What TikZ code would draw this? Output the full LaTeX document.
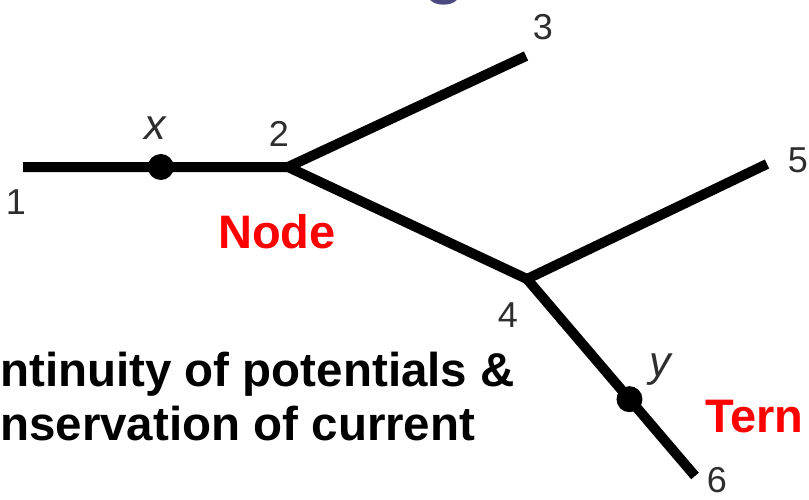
\documentclass[tikz,border=0pt]{standalone}
\usepackage{fontspec}
\setmainfont{Liberation Sans}
\usepackage{tikz}
\usetikzlibrary{calc}
\definecolor{TitleBlue}{HTML}{4A4980}
\definecolor{LabGray}{HTML}{2E2E2E}
\definecolor{NodeRed}{HTML}{FF0000}

\begin{document}
\begin{tikzpicture}[x=1pt,y=-1pt,
  cable/.style={line width=10pt,line join=round},
  dot/.style={circle,fill=black,inner sep=0pt,minimum size=26pt},
  num/.style={text=LabGray,font=\fontsize{36}{36}\selectfont,inner sep=0pt},
  var/.style={text=LabGray,font=\fontsize{43}{43}\selectfont\itshape,inner sep=0pt},
  redlab/.style={text=NodeRed,font=\fontsize{47}{47}\selectfont\bfseries,inner sep=0pt},
  every node/.style={anchor=center}]
  \useasboundingbox (0,0) rectangle (809,499);
  % title fragment
  \node[text=TitleBlue,font=\fontsize{80}{80}\selectfont,anchor=base,inner sep=0pt] (ttl) at (445,-12) {g};
  % branch points
  \coordinate (p1) at (23,167);
  \coordinate (p2) at (288,167);
  \coordinate (p3) at (526,56);
  \coordinate (p4) at (527,279);
  \coordinate (p5) at (767,164);
  \coordinate (p6) at (695,476);
  \draw[cable] (p1) -- (p2) -- (p4) -- (p6);
  \draw[cable] (p3) -- (p2);
  \draw[cable] (p5) -- (p4);
  \node[dot] (dx) at ($(p1)!0.52!(p2)$) {};
  \node[dot] (dy) at ($(p4)!0.61!(p6)$) {};
  % labels
  \node[num] (l1) at (16,202) {1};
  \node[num] (l2) at (279,134) {2};
  \node[num] (l3) at (543,27) {3};
  \node[num] (l4) at (508,315) {4};
  \node[num] (l5) at (798,160) {5};
  \node[num] (l6) at (717,480) {6};
  \node[var,anchor=base] (lx) at (155,139) {x};
  \node[var,anchor=base] (ly) at (660,376) {y};
  \node[redlab] (nd) at (277,232) {Node};
  \node[redlab,anchor=base west] (tm) at (705,432) {Tern};
  \node[font=\fontsize{47.5}{55}\selectfont\bfseries,anchor=base west,inner sep=0pt] (cc1) at (0,386) {ntinuity of potentials \&};
  \node[font=\fontsize{47.5}{55}\selectfont\bfseries,anchor=base west,inner sep=0pt] (cc2) at (0,440) {nservation of current};
\end{tikzpicture}
\end{document}
